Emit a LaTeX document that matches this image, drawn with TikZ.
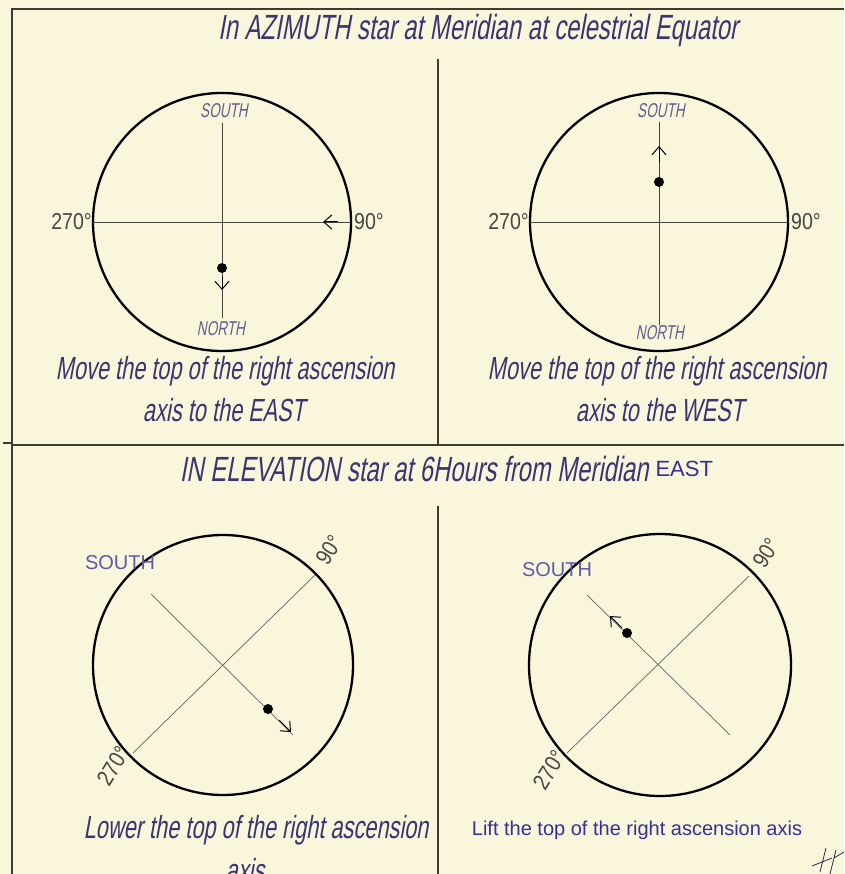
\documentclass[tikz,border=0pt]{standalone}
\usepackage{fontspec}
\usetikzlibrary{arrows.meta,calc}
\newfontfamily\handfont[FakeSlant=0.18,FakeStretch=0.68]{Liberation Sans}
\newfontfamily\degfont[FakeStretch=0.85]{Liberation Sans}
\newfontfamily\arialfont{Liberation Sans}
\definecolor{paper}{RGB}{250,246,220}
\definecolor{ink}{RGB}{58,52,112}
\definecolor{blueink}{RGB}{52,48,150}
\definecolor{pencil}{RGB}{70,70,65}
\definecolor{frame}{RGB}{60,60,50}

\begin{document}
\begin{tikzpicture}[x=1pt, y=-1pt, >={Straight Barb[length=8pt,width=14pt]}]
    \useasboundingbox[fill=paper] (0,0) rectangle (844,874);

    % Estilos
    \tikzset{
        dial/.style={draw=black, line width=2.3pt},
        axisline/.style={draw=pencil, line width=0.8pt},
        diagline/.style={draw=pencil!85, line width=0.7pt},
        motion/.style={draw=black, line width=1pt, ->},
        star/.style={fill=black, circle, minimum size=10pt, inner sep=0pt},
        hand/.style={text=ink, font=\handfont\fontsize{32}{34}\selectfont},
        handtitle/.style={text=ink, font=\handfont\fontsize{35}{38}\selectfont},
        handsmall/.style={text=ink!80, font=\handfont\fontsize{20}{22}\selectfont},
        deg/.style={text=pencil, font=\degfont\fontsize{23}{24}\selectfont, inner sep=1pt},
        plain/.style={text=blueink, font=\arialfont\fontsize{20}{22}\selectfont},
    }

    % --- MARCO ---
    \draw[frame, line width=1.3pt] (844,9) -- (12,9) -- (12,874);
    \draw[frame, line width=1.3pt] (12,445) -- (844,445);
    \draw[frame, line width=1.3pt] (3,443) -- (12,443);
    \draw[frame, line width=1.3pt] (438,59) -- (438,445);
    \draw[frame, line width=1.3pt] (438,506) -- (438,874);

    % --- TITULOS ---
    \node[handtitle] (titleAz) at (478,30)
        {In AZIMUTH star at Meridian at celestrial Equator};
    \node[handtitle, anchor=east] (titleEl) at (652,469)
        {IN ELEVATION star at 6Hours from Meridian};
    \node[plain, font=\arialfont\fontsize{22}{24}\selectfont, anchor=west] (titleEast) at (titleEl.east) {EAST};

    % --- AZIMUT: OESTE A ESTE ---
    \coordinate (TL) at (222,222);
    \draw[dial] (TL) circle (129);
    \draw[axisline] ($(TL)+(-129,0)$) -- ($(TL)+(129,0)$);
    \draw[axisline] (222,123) -- (222,318);
    \node[star] (starTL) at (222,268) {};
    \draw[motion] (222,276) -- (222,290);
    \draw[motion] (338,222) -- (323,222);
    \node[handsmall] (southTL) at (224,111) {SOUTH};
    \node[handsmall] (northTL) at (221,329) {NORTH};
    \node[deg, anchor=east] (degTLw) at (93,222) {270°};
    \node[deg, anchor=west] (degTLe) at (353,222) {90°};
    \node[hand] (capTLa) at (225,371) {Move the top of the right ascension};
    \node[hand] (capTLb) at (224,410) {axis to the EAST};

    % --- AZIMUT: ESTE A OESTE ---
    \coordinate (TR) at (659,222);
    \draw[dial] (TR) circle (129);
    \draw[axisline] ($(TR)+(-129,0)$) -- ($(TR)+(129,0)$);
    \draw[axisline] (659,122) -- (659,325);
    \node[star] (starTR) at (659,182) {};
    \draw[motion] (659,162) -- (659,146);
    \node[handsmall] (southTR) at (661,111) {SOUTH};
    \node[handsmall] (northTR) at (660,333) {NORTH};
    \node[deg, anchor=east] (degTRw) at (530,222) {270°};
    \node[deg, anchor=west] (degTRe) at (790,222) {90°};
    \node[hand] (capTRa) at (657,371) {Move the top of the right ascension};
    \node[hand] (capTRb) at (660,410) {axis to the WEST};

    % --- ELEVACION: BAJAR ---
    \coordinate (BL) at (223,665);
    \draw[dial] (BL) circle (130);
    \draw[diagline] ($(BL)+(-90,88)$) -- ($(BL)+(92,-90)$);
    \draw[diagline] ($(BL)+(-72,-71)$) -- ($(BL)+(70,70)$);
    \node[star] (starBL) at (268,709) {};
    \draw[motion] (279,720) -- (291,732);
    \node[plain, text=blueink!80] (southBL) at (120,563) {SOUTH};
    \node[deg, rotate=58] (degBLe) at (329,550) {90°};
    \node[deg, rotate=58] (degBLw) at (113,766) {270°};
    \node[hand] (capBLa) at (256,830) {Lower the top of the right ascension};
    \node[hand] (capBLb) at (245,870) {axis};

    % --- ELEVACION: SUBIR ---
    \coordinate (BR) at (660,665);
    \draw[dial] (BR) circle (131);
    \draw[diagline] ($(BR)+(-93,88)$) -- ($(BR)+(89,-89)$);
    \draw[diagline] ($(BR)+(-73,-70)$) -- ($(BR)+(70,70)$);
    \node[star] (starBR) at (627,633) {};
    \draw[motion] (622,628) -- (610,616);
    \node[plain, text=blueink!80] (southBR) at (557,570) {SOUTH};
    \node[deg, rotate=58] (degBRe) at (766,553) {90°};
    \node[deg, rotate=58] (degBRw) at (549,770) {270°};
    \node[plain] (capBR) at (637,830)
        {Lift the top of the right ascension axis};

    % firma
    \draw[ink!70!black, line width=0.8pt] (812,866) -- (832,858) (820,872) -- (826,848) (830,874) -- (836,850) (834,858) -- (844,852);
\end{tikzpicture}
\end{document}
